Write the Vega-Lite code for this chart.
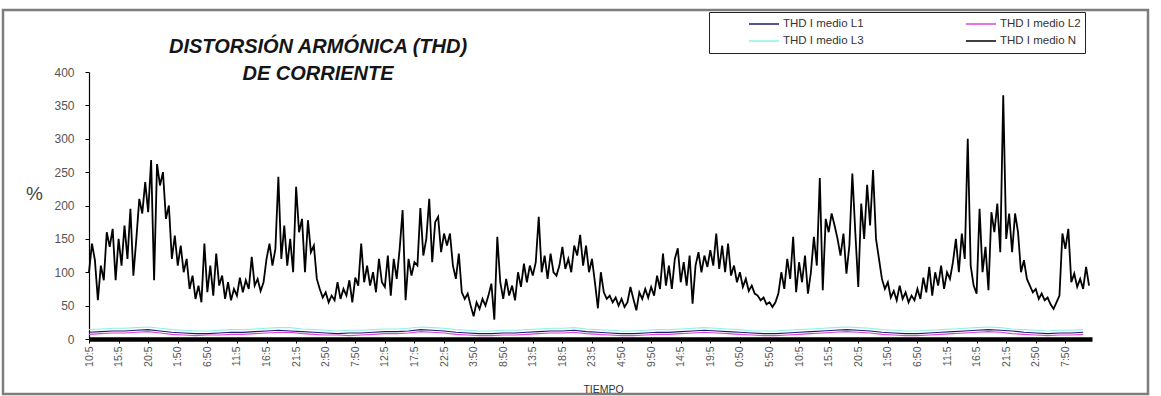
{
  "$schema": "https://vega.github.io/schema/vega-lite/v6.json",
  "width": 1145,
  "height": 384,
  "autosize": "none",
  "padding": {"left": 3, "top": 10, "right": 13, "bottom": 2},
  "background": "white",
  "config": {
    "font": "Liberation Sans",
    "view": {"stroke": "#7d7d7d", "strokeWidth": 2.5}
  },
  "title": {
    "text": ["DISTORSIÓN ARMÓNICA (THD)", "DE CORRIENTE"],
    "anchor": "start",
    "align": "center",
    "frame": "group",
    "baseline": "alphabetic",
    "offset": 0,
    "dx": 315,
    "dy": 90,
    "lineHeight": 27,
    "fontSize": 20,
    "fontStyle": "italic",
    "fontWeight": "bold",
    "color": "#151515"
  },
  "datasets": {
    "neutro": [
      {"t":0,"v":100},{"t":0.5,"v":143},{"t":1,"v":118},{"t":1.5,"v":58},{"t":2,"v":110},{"t":2.5,"v":88},{"t":3,"v":160},{"t":3.5,"v":138},{"t":4,"v":165},{"t":4.5,"v":88},
      {"t":5,"v":150},{"t":5.5,"v":110},{"t":6,"v":170},{"t":6.5,"v":120},{"t":7,"v":195},{"t":7.5,"v":95},{"t":8,"v":150},{"t":8.5,"v":210},{"t":9,"v":188},{"t":9.5,"v":235},
      {"t":10,"v":190},{"t":10.5,"v":268},{"t":11,"v":88},{"t":11.5,"v":262},{"t":12,"v":230},{"t":12.5,"v":250},{"t":13,"v":180},{"t":13.5,"v":200},{"t":14,"v":120},{"t":14.5,"v":155},
      {"t":15,"v":110},{"t":15.5,"v":140},{"t":16,"v":100},{"t":16.5,"v":120},{"t":17,"v":75},{"t":17.5,"v":95},{"t":18,"v":60},{"t":18.5,"v":80},{"t":19,"v":55},{"t":19.5,"v":143},
      {"t":20,"v":70},{"t":20.5,"v":110},{"t":21,"v":65},{"t":21.5,"v":128},{"t":22,"v":80},{"t":22.5,"v":95},{"t":23,"v":60},{"t":23.5,"v":85},{"t":24,"v":58},{"t":24.5,"v":75},
      {"t":25,"v":65},{"t":25.5,"v":92},{"t":26,"v":70},{"t":26.5,"v":88},{"t":27,"v":75},{"t":27.5,"v":123},{"t":28,"v":80},{"t":28.5,"v":90},{"t":29,"v":72},{"t":29.5,"v":85},
      {"t":30,"v":120},{"t":30.5,"v":143},{"t":31,"v":110},{"t":31.5,"v":135},{"t":32,"v":243},{"t":32.5,"v":120},{"t":33,"v":170},{"t":33.5,"v":110},{"t":34,"v":150},{"t":34.5,"v":100},
      {"t":35,"v":228},{"t":35.5,"v":160},{"t":36,"v":180},{"t":36.5,"v":100},{"t":37,"v":178},{"t":37.5,"v":130},{"t":38,"v":140},{"t":38.5,"v":90},{"t":39,"v":75},{"t":39.5,"v":62},
      {"t":40,"v":70},{"t":40.5,"v":55},{"t":41,"v":65},{"t":41.5,"v":58},{"t":42,"v":85},{"t":42.5,"v":60},{"t":43,"v":75},{"t":43.5,"v":65},{"t":44,"v":88},{"t":44.5,"v":55},
      {"t":45,"v":92},{"t":45.5,"v":80},{"t":46,"v":143},{"t":46.5,"v":85},{"t":47,"v":110},{"t":47.5,"v":80},{"t":48,"v":100},{"t":48.5,"v":70},{"t":49,"v":120},{"t":49.5,"v":85},
      {"t":50,"v":78},{"t":50.5,"v":125},{"t":51,"v":65},{"t":51.5,"v":120},{"t":52,"v":90},{"t":52.5,"v":135},{"t":53,"v":193},{"t":53.5,"v":58},{"t":54,"v":120},{"t":54.5,"v":95},
      {"t":55,"v":115},{"t":55.5,"v":110},{"t":56,"v":196},{"t":56.5,"v":125},{"t":57,"v":150},{"t":57.5,"v":210},{"t":58,"v":115},{"t":58.5,"v":175},{"t":59,"v":183},{"t":59.5,"v":130},
      {"t":60,"v":158},{"t":60.5,"v":140},{"t":61,"v":158},{"t":61.5,"v":110},{"t":62,"v":90},{"t":62.5,"v":128},{"t":63,"v":70},{"t":63.5,"v":60},{"t":64,"v":68},{"t":64.5,"v":50},
      {"t":65,"v":34},{"t":65.5,"v":55},{"t":66,"v":45},{"t":66.5,"v":60},{"t":67,"v":50},{"t":67.5,"v":65},{"t":68,"v":83},{"t":68.5,"v":29},{"t":69,"v":153},{"t":69.5,"v":85},
      {"t":70,"v":60},{"t":70.5,"v":90},{"t":71,"v":65},{"t":71.5,"v":80},{"t":72,"v":58},{"t":72.5,"v":100},{"t":73,"v":78},{"t":73.5,"v":113},{"t":74,"v":85},{"t":74.5,"v":110},
      {"t":75,"v":95},{"t":75.5,"v":115},{"t":76,"v":183},{"t":76.5,"v":100},{"t":77,"v":125},{"t":77.5,"v":90},{"t":78,"v":128},{"t":78.5,"v":100},{"t":79,"v":95},{"t":79.5,"v":110},
      {"t":80,"v":138},{"t":80.5,"v":105},{"t":81,"v":120},{"t":81.5,"v":100},{"t":82,"v":140},{"t":82.5,"v":125},{"t":83,"v":156},{"t":83.5,"v":110},{"t":84,"v":140},{"t":84.5,"v":100},
      {"t":85,"v":120},{"t":85.5,"v":85},{"t":86,"v":46},{"t":86.5,"v":100},{"t":87,"v":70},{"t":87.5,"v":60},{"t":88,"v":65},{"t":88.5,"v":55},{"t":89,"v":62},{"t":89.5,"v":50},
      {"t":90,"v":60},{"t":90.5,"v":48},{"t":91,"v":55},{"t":91.5,"v":78},{"t":92,"v":60},{"t":92.5,"v":43},{"t":93,"v":70},{"t":93.5,"v":60},{"t":94,"v":75},{"t":94.5,"v":62},
      {"t":95,"v":78},{"t":95.5,"v":65},{"t":96,"v":95},{"t":96.5,"v":75},{"t":97,"v":128},{"t":97.5,"v":80},{"t":98,"v":110},{"t":98.5,"v":75},{"t":99,"v":120},{"t":99.5,"v":136},
      {"t":100,"v":85},{"t":100.5,"v":115},{"t":101,"v":80},{"t":101.5,"v":125},{"t":102,"v":53},{"t":102.5,"v":110},{"t":103,"v":130},{"t":103.5,"v":100},{"t":104,"v":125},{"t":104.5,"v":108},
      {"t":105,"v":133},{"t":105.5,"v":110},{"t":106,"v":158},{"t":106.5,"v":105},{"t":107,"v":140},{"t":107.5,"v":100},{"t":108,"v":143},{"t":108.5,"v":95},{"t":109,"v":110},{"t":109.5,"v":85},
      {"t":110,"v":100},{"t":110.5,"v":78},{"t":111,"v":90},{"t":111.5,"v":72},{"t":112,"v":80},{"t":112.5,"v":68},{"t":113,"v":65},{"t":113.5,"v":58},{"t":114,"v":62},{"t":114.5,"v":52},
      {"t":115,"v":55},{"t":115.5,"v":48},{"t":116,"v":55},{"t":116.5,"v":68},{"t":117,"v":100},{"t":117.5,"v":75},{"t":118,"v":120},{"t":118.5,"v":90},{"t":119,"v":153},{"t":119.5,"v":70},
      {"t":120,"v":115},{"t":120.5,"v":85},{"t":121,"v":125},{"t":121.5,"v":68},{"t":122,"v":100},{"t":122.5,"v":153},{"t":123,"v":110},{"t":123.5,"v":241},{"t":124,"v":73},{"t":124.5,"v":180},
      {"t":125,"v":160},{"t":125.5,"v":188},{"t":126,"v":170},{"t":126.5,"v":150},{"t":127,"v":125},{"t":127.5,"v":158},{"t":128,"v":98},{"t":128.5,"v":140},{"t":129,"v":248},{"t":129.5,"v":160},
      {"t":130,"v":78},{"t":130.5,"v":203},{"t":131,"v":150},{"t":131.5,"v":231},{"t":132,"v":170},{"t":132.5,"v":253},{"t":133,"v":150},{"t":133.5,"v":120},{"t":134,"v":90},{"t":134.5,"v":75},
      {"t":135,"v":85},{"t":135.5,"v":62},{"t":136,"v":72},{"t":136.5,"v":58},{"t":137,"v":80},{"t":137.5,"v":60},{"t":138,"v":70},{"t":138.5,"v":55},{"t":139,"v":65},{"t":139.5,"v":58},
      {"t":140,"v":75},{"t":140.5,"v":60},{"t":141,"v":92},{"t":141.5,"v":70},{"t":142,"v":108},{"t":142.5,"v":65},{"t":143,"v":100},{"t":143.5,"v":80},{"t":144,"v":110},{"t":144.5,"v":75},
      {"t":145,"v":100},{"t":145.5,"v":90},{"t":146,"v":115},{"t":146.5,"v":150},{"t":147,"v":100},{"t":147.5,"v":158},{"t":148,"v":120},{"t":148.5,"v":300},{"t":149,"v":110},{"t":149.5,"v":80},
      {"t":150,"v":68},{"t":150.5,"v":195},{"t":151,"v":100},{"t":151.5,"v":138},{"t":152,"v":73},{"t":152.5,"v":190},{"t":153,"v":160},{"t":153.5,"v":203},{"t":154,"v":130},{"t":154.5,"v":365},
      {"t":155,"v":150},{"t":155.5,"v":188},{"t":156,"v":130},{"t":156.5,"v":188},{"t":157,"v":160},{"t":157.5,"v":100},{"t":158,"v":118},{"t":158.5,"v":90},{"t":159,"v":80},{"t":159.5,"v":70},
      {"t":160,"v":75},{"t":160.5,"v":60},{"t":161,"v":68},{"t":161.5,"v":58},{"t":162,"v":62},{"t":162.5,"v":52},{"t":163,"v":45},{"t":163.5,"v":55},{"t":164,"v":65},{"t":164.5,"v":158},
      {"t":165,"v":135},{"t":165.5,"v":165},{"t":166,"v":85},{"t":166.5,"v":98},{"t":167,"v":78},{"t":167.5,"v":90},{"t":168,"v":75},{"t":168.5,"v":108},{"t":169,"v":80}
    ],
    "fases": [
      {"t":0,"THD I medio L1":10,"THD I medio L2":7,"THD I medio L3":14},
      {"t":2,"THD I medio L1":11,"THD I medio L2":8,"THD I medio L3":15},
      {"t":4,"THD I medio L1":12,"THD I medio L2":9,"THD I medio L3":16},
      {"t":6,"THD I medio L1":12,"THD I medio L2":9,"THD I medio L3":16},
      {"t":8,"THD I medio L1":13,"THD I medio L2":10,"THD I medio L3":17},
      {"t":10,"THD I medio L1":14,"THD I medio L2":11,"THD I medio L3":18},
      {"t":12,"THD I medio L1":12,"THD I medio L2":9,"THD I medio L3":16},
      {"t":14,"THD I medio L1":10,"THD I medio L2":7,"THD I medio L3":14},
      {"t":16,"THD I medio L1":9,"THD I medio L2":6,"THD I medio L3":13},
      {"t":18,"THD I medio L1":8,"THD I medio L2":5,"THD I medio L3":12},
      {"t":20,"THD I medio L1":8,"THD I medio L2":6,"THD I medio L3":12},
      {"t":22,"THD I medio L1":9,"THD I medio L2":6,"THD I medio L3":13},
      {"t":24,"THD I medio L1":10,"THD I medio L2":7,"THD I medio L3":14},
      {"t":26,"THD I medio L1":10,"THD I medio L2":7,"THD I medio L3":14},
      {"t":28,"THD I medio L1":11,"THD I medio L2":8,"THD I medio L3":15},
      {"t":30,"THD I medio L1":12,"THD I medio L2":9,"THD I medio L3":16},
      {"t":32,"THD I medio L1":13,"THD I medio L2":10,"THD I medio L3":17},
      {"t":34,"THD I medio L1":12,"THD I medio L2":10,"THD I medio L3":17},
      {"t":36,"THD I medio L1":11,"THD I medio L2":8,"THD I medio L3":15},
      {"t":38,"THD I medio L1":10,"THD I medio L2":7,"THD I medio L3":14},
      {"t":40,"THD I medio L1":9,"THD I medio L2":6,"THD I medio L3":13},
      {"t":42,"THD I medio L1":8,"THD I medio L2":6,"THD I medio L3":12},
      {"t":44,"THD I medio L1":9,"THD I medio L2":5,"THD I medio L3":13},
      {"t":46,"THD I medio L1":9,"THD I medio L2":6,"THD I medio L3":13},
      {"t":48,"THD I medio L1":10,"THD I medio L2":7,"THD I medio L3":14},
      {"t":50,"THD I medio L1":11,"THD I medio L2":8,"THD I medio L3":15},
      {"t":52,"THD I medio L1":11,"THD I medio L2":8,"THD I medio L3":15},
      {"t":54,"THD I medio L1":12,"THD I medio L2":9,"THD I medio L3":16},
      {"t":56,"THD I medio L1":14,"THD I medio L2":11,"THD I medio L3":18},
      {"t":58,"THD I medio L1":13,"THD I medio L2":10,"THD I medio L3":17},
      {"t":60,"THD I medio L1":12,"THD I medio L2":9,"THD I medio L3":16},
      {"t":62,"THD I medio L1":10,"THD I medio L2":7,"THD I medio L3":14},
      {"t":64,"THD I medio L1":9,"THD I medio L2":6,"THD I medio L3":13},
      {"t":66,"THD I medio L1":8,"THD I medio L2":5,"THD I medio L3":12},
      {"t":68,"THD I medio L1":8,"THD I medio L2":5,"THD I medio L3":12},
      {"t":70,"THD I medio L1":9,"THD I medio L2":6,"THD I medio L3":13},
      {"t":72,"THD I medio L1":9,"THD I medio L2":6,"THD I medio L3":13},
      {"t":74,"THD I medio L1":10,"THD I medio L2":7,"THD I medio L3":14},
      {"t":76,"THD I medio L1":11,"THD I medio L2":8,"THD I medio L3":15},
      {"t":78,"THD I medio L1":12,"THD I medio L2":9,"THD I medio L3":16},
      {"t":80,"THD I medio L1":12,"THD I medio L2":9,"THD I medio L3":16},
      {"t":82,"THD I medio L1":13,"THD I medio L2":10,"THD I medio L3":17},
      {"t":84,"THD I medio L1":11,"THD I medio L2":8,"THD I medio L3":15},
      {"t":86,"THD I medio L1":10,"THD I medio L2":7,"THD I medio L3":14},
      {"t":88,"THD I medio L1":9,"THD I medio L2":6,"THD I medio L3":13},
      {"t":90,"THD I medio L1":8,"THD I medio L2":5,"THD I medio L3":12},
      {"t":92,"THD I medio L1":8,"THD I medio L2":5,"THD I medio L3":12},
      {"t":94,"THD I medio L1":9,"THD I medio L2":6,"THD I medio L3":13},
      {"t":96,"THD I medio L1":10,"THD I medio L2":7,"THD I medio L3":14},
      {"t":98,"THD I medio L1":10,"THD I medio L2":7,"THD I medio L3":14},
      {"t":100,"THD I medio L1":11,"THD I medio L2":8,"THD I medio L3":15},
      {"t":102,"THD I medio L1":12,"THD I medio L2":9,"THD I medio L3":16},
      {"t":104,"THD I medio L1":13,"THD I medio L2":10,"THD I medio L3":17},
      {"t":106,"THD I medio L1":12,"THD I medio L2":9,"THD I medio L3":16},
      {"t":108,"THD I medio L1":11,"THD I medio L2":8,"THD I medio L3":15},
      {"t":110,"THD I medio L1":10,"THD I medio L2":7,"THD I medio L3":14},
      {"t":112,"THD I medio L1":9,"THD I medio L2":6,"THD I medio L3":12},
      {"t":114,"THD I medio L1":8,"THD I medio L2":5,"THD I medio L3":12},
      {"t":116,"THD I medio L1":8,"THD I medio L2":5,"THD I medio L3":12},
      {"t":118,"THD I medio L1":9,"THD I medio L2":6,"THD I medio L3":13},
      {"t":120,"THD I medio L1":10,"THD I medio L2":7,"THD I medio L3":14},
      {"t":122,"THD I medio L1":11,"THD I medio L2":8,"THD I medio L3":15},
      {"t":124,"THD I medio L1":12,"THD I medio L2":9,"THD I medio L3":16},
      {"t":126,"THD I medio L1":13,"THD I medio L2":10,"THD I medio L3":17},
      {"t":128,"THD I medio L1":14,"THD I medio L2":11,"THD I medio L3":18},
      {"t":130,"THD I medio L1":13,"THD I medio L2":10,"THD I medio L3":17},
      {"t":132,"THD I medio L1":12,"THD I medio L2":9,"THD I medio L3":16},
      {"t":134,"THD I medio L1":10,"THD I medio L2":7,"THD I medio L3":14},
      {"t":136,"THD I medio L1":9,"THD I medio L2":6,"THD I medio L3":13},
      {"t":138,"THD I medio L1":8,"THD I medio L2":5,"THD I medio L3":12},
      {"t":140,"THD I medio L1":8,"THD I medio L2":5,"THD I medio L3":12},
      {"t":142,"THD I medio L1":9,"THD I medio L2":6,"THD I medio L3":13},
      {"t":144,"THD I medio L1":10,"THD I medio L2":7,"THD I medio L3":14},
      {"t":146,"THD I medio L1":11,"THD I medio L2":8,"THD I medio L3":15},
      {"t":148,"THD I medio L1":12,"THD I medio L2":9,"THD I medio L3":16},
      {"t":150,"THD I medio L1":13,"THD I medio L2":10,"THD I medio L3":17},
      {"t":152,"THD I medio L1":14,"THD I medio L2":11,"THD I medio L3":18},
      {"t":154,"THD I medio L1":13,"THD I medio L2":10,"THD I medio L3":17},
      {"t":156,"THD I medio L1":12,"THD I medio L2":8,"THD I medio L3":15},
      {"t":158,"THD I medio L1":10,"THD I medio L2":7,"THD I medio L3":14},
      {"t":160,"THD I medio L1":9,"THD I medio L2":6,"THD I medio L3":13},
      {"t":162,"THD I medio L1":8,"THD I medio L2":5,"THD I medio L3":12},
      {"t":164,"THD I medio L1":9,"THD I medio L2":6,"THD I medio L3":13},
      {"t":166,"THD I medio L1":9,"THD I medio L2":6,"THD I medio L3":13},
      {"t":168,"THD I medio L1":10,"THD I medio L2":7,"THD I medio L3":14}
    ]
  },
  "encoding": {
    "x": {
      "field": "t",
      "type": "quantitative",
      "scale": {"domain": [0, 169.5], "range": [86, 1089], "nice": false, "zero": false},
      "axis": {
        "values": [0,5,10,15,20,25,30,35,40,45,50,55,60,65,70,75,80,85,90,95,100,105,110,115,120,125,130,135,140,145,150,155,160,165],
        "labelExpr": "['10:5','15:5','20:5','1:50','6:50','11:5','16:5','21:5','2:50','7:50','12:5','17:5','22:5','3:50','8:50','13:5','18:5','23:5','4:50','9:50','14:5','19:5','0:50','5:50','10:5','15:5','20:5','1:50','6:50','11:5','16:5','21:5','2:50','7:50'][round(datum.value / 5)]",
        "offset": -55,
        "grid": false,
        "domainColor": "#000000",
        "domainWidth": 4.5,
        "tickColor": "#000000",
        "tickSize": 4,
        "labelAngle": -90,
        "labelAlign": "right",
        "labelBaseline": "middle",
        "labelFontSize": 10.5,
        "labelColor": "#555555",
        "labelPadding": 3,
        "labelOverlap": false,
        "labelFlush": false,
        "title": "TIEMPO",
        "titleFontSize": 10.5,
        "titleFontWeight": "normal",
        "titleColor": "#333333",
        "titleX": 600,
        "titleY": 50,
        "titleAlign": "center",
        "titleBaseline": "middle"
      }
    },
    "y": {
      "field": "v",
      "type": "quantitative",
      "scale": {"domain": [0, 400], "range": [329, 62], "nice": false, "zero": false},
      "axis": {
        "values": [0,50,100,150,200,250,300,350,400],
        "offset": -86,
        "grid": false,
        "domainColor": "#000000",
        "domainWidth": 1.2,
        "tickColor": "#000000",
        "tickSize": 4,
        "labelFontSize": 12,
        "labelColor": "#555555",
        "labelPadding": 11,
        "title": "%",
        "titleAngle": 0,
        "titleX": -55,
        "titleY": 183,
        "titleAlign": "center",
        "titleBaseline": "middle",
        "titleFontSize": 19,
        "titleFontWeight": "normal",
        "titleColor": "#444444"
      }
    }
  },
  "layer": [
    {
      "data": {"name": "fases"},
      "transform": [
        {"fold": ["THD I medio L1", "THD I medio L2", "THD I medio L3"], "as": ["serie", "v"]}
      ],
      "mark": {"type": "line", "strokeWidth": 1.1},
      "encoding": {
        "color": {
          "field": "serie",
          "type": "nominal",
          "scale": {
            "domain": ["THD I medio L1", "THD I medio L2", "THD I medio L3", "THD I medio N"],
            "range": ["#1c1c70", "#e040dc", "#8ef0ea", "#000000"]
          },
          "legend": {
            "orient": "none",
            "legendX": 706,
            "legendY": 2,
            "direction": "horizontal",
            "columns": 2,
            "title": null,
            "symbolType": "stroke",
            "symbolSize": 900,
            "symbolStrokeWidth": 1.6,
            "clipHeight": 16,
            "rowPadding": 1,
            "columnPadding": 66,
            "symbolOffset": 35,
            "labelOffset": 3,
            "labelFontSize": 11.5,
            "labelColor": "#333333",
            "labelLimit": 200,
            "padding": 4,
            "strokeColor": "#222222",
            "fillColor": "#ffffff"
          }
        }
      }
    },
    {
      "data": {"name": "neutro"},
      "mark": {"type": "line", "strokeWidth": 1.8, "strokeJoin": "miter"},
      "encoding": {
        "color": {"datum": "THD I medio N", "type": "nominal"}
      }
    }
  ],
  "resolve": {"scale": {"color": "shared"}}
}
